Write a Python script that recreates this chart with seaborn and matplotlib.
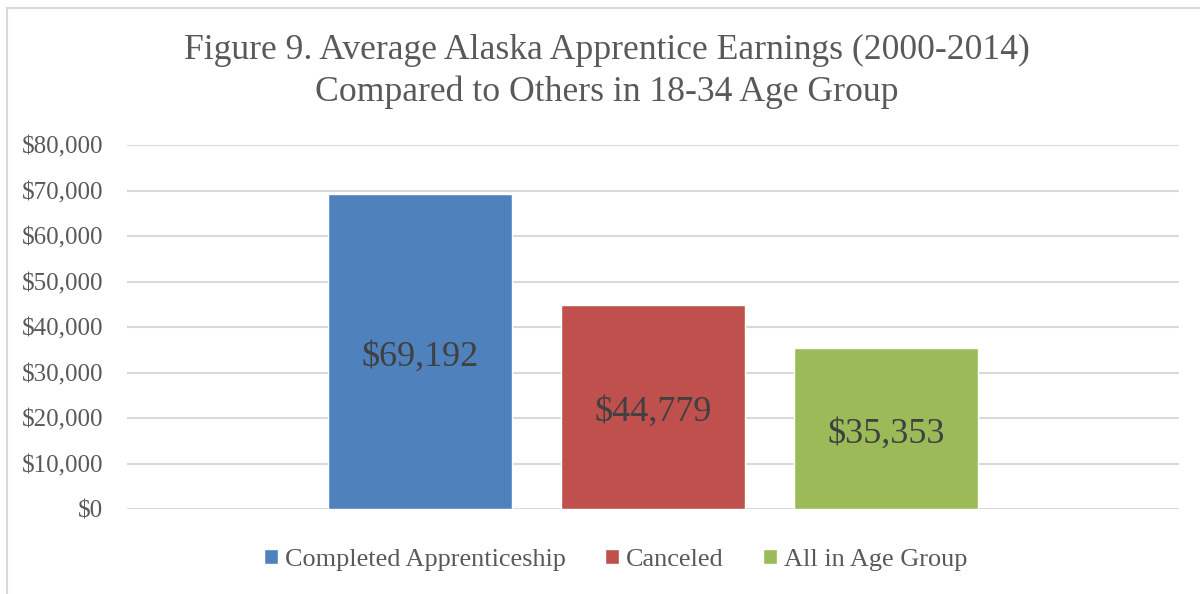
import matplotlib
matplotlib.use("Agg")
import matplotlib.pyplot as plt
import seaborn as sns
import pandas as pd
from matplotlib.patches import Rectangle
from matplotlib.ticker import FuncFormatter

# Data
series = ["Completed Apprenticeship", "Canceled", "All in Age Group"]
earnings = [69192, 44779, 35353]
colors = ["#4F81BD", "#C0504D", "#9BBB59"]
y_ticks = [0, 10000, 20000, 30000, 40000, 50000, 60000, 70000, 80000]

title = "Figure 9. Average Alaska Apprentice Earnings (2000-2014)\nCompared to Others in 18-34 Age Group"

df = pd.DataFrame({"group": ["All"] * len(series), "series": series, "earnings": earnings})

sns.set_theme(style="white")
plt.rcParams["font.family"] = ["Liberation Serif", "DejaVu Serif"]

fig = plt.figure(figsize=(12, 5.94), dpi=100)
ax = fig.add_axes([127 / 1200, 1 - 509 / 594, 1052 / 1200, 364 / 594])

sns.barplot(
    data=df, x="group", y="earnings", hue="series",
    hue_order=series, palette=colors, width=0.6645, gap=0.21,
    saturation=1, ax=ax, legend=False,
)

ax.set_ylim(0, 80000)
ax.set_yticks(y_ticks)
ax.yaxis.set_major_formatter(FuncFormatter(lambda v, p: f"${v:,.0f}"))
ax.tick_params(axis="y", labelsize=18, labelcolor="#595959", length=0, pad=17)
ax.set_xticks([])
ax.set_xlabel("")
ax.set_ylabel("")
ax.grid(axis="y", color="#D9D9D9", linewidth=1.5)
ax.set_axisbelow(True)
for s in ax.spines.values():
    s.set_visible(False)

# value labels centred in each bar (slightly below the middle, like the original)
for bar in ax.patches:
    h = bar.get_height()
    ax.annotate(f"${h:,.0f}", (bar.get_x() + bar.get_width() / 2, h / 2),
                xytext=(0, -4), textcoords="offset points",
                ha="center", va="center", fontsize=26, color="#404040")

fig.text(0.506, 1 - 71.5 / 594, title, ha="center", va="center", fontsize=25.7,
         color="#595959", linespacing=1.36)

handles = [Rectangle((0, 0), 1, 1, facecolor=c) for c in colors]
fig.legend(handles, series, loc="center", bbox_to_anchor=(615.5 / 1200, 1 - 560 / 594),
           ncol=3, frameon=False, fontsize=18.9, handlelength=0.53, handleheight=0.53,
           handletextpad=0.27, columnspacing=1.5, labelcolor="#595959")

# chart frame (left and top edges visible)
fig.add_artist(Rectangle((7 / 1200, -0.1), 1.2, 1 - 8 / 594 + 0.1, transform=fig.transFigure,
                         fill=False, edgecolor="#D9D9D9", linewidth=1.5))

fig.savefig("out.png", dpi=100)
